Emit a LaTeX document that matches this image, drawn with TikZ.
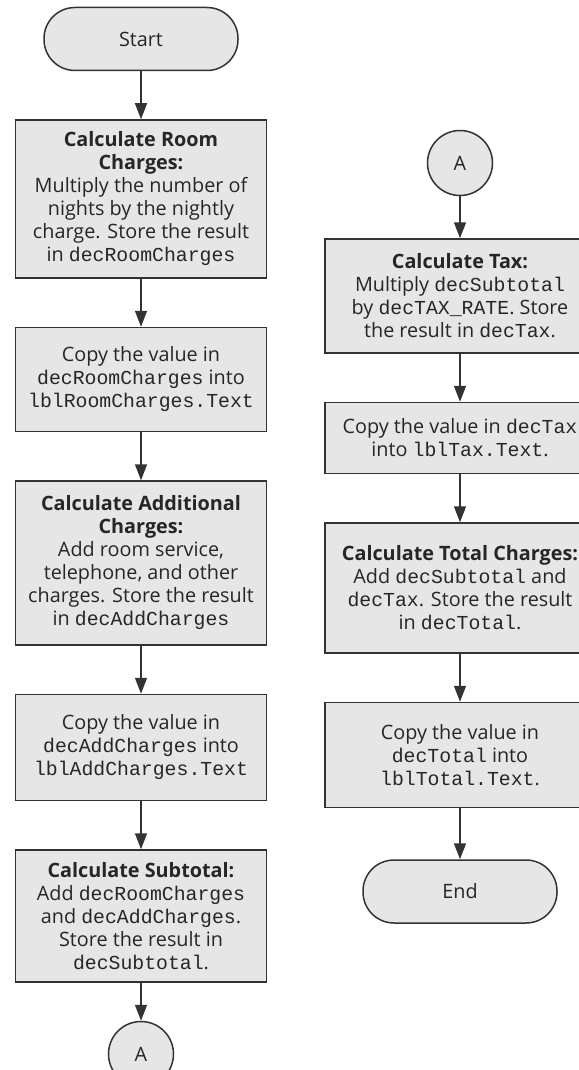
\documentclass[tikz,border=0pt]{standalone}
\usepackage{fontspec}
\setmainfont{Open Sans}
\setmonofont[Scale=1.0]{Liberation Mono}
\usetikzlibrary{positioning,arrows.meta}
\definecolor{boxgray}{HTML}{E6E6E6}
\definecolor{linegray}{HTML}{333333}

\begin{document}
\begin{tikzpicture}[
    x=1pt, y=1pt,
    node distance=48pt,
    every node/.style={align=center, text=black!85, font=\fontsize{19.8}{23}\selectfont},
    procbox/.style={draw=linegray, fill=boxgray, line width=1.5pt, inner xsep=6pt, inner ysep=8pt},
    leftbox/.style={procbox, minimum width=251pt},
    rightbox/.style={procbox, minimum width=270pt},
    terminal/.style={draw=linegray, fill=boxgray, line width=1.5pt, rounded corners=31pt, minimum width=194pt, minimum height=63pt},
    connector/.style={draw=linegray, fill=boxgray, line width=1.5pt, circle, minimum size=65pt, inner sep=0pt},
    flow/.style={draw=linegray, line width=1.5pt, -{Triangle[length=16pt,width=12pt]}}
]
\useasboundingbox (0,0) rectangle (578,-1070);

% left column
\node[terminal] (start) at (141,-39) {Start};
\node[leftbox, minimum height=158pt, below=of start] (roomcalc)
    {\textbf{Calculate Room}\\\textbf{Charges:}\\Multiply the number of\\nights by the nightly\\charge. Store the result\\in \texttt{decRoomCharges}};
\node[leftbox, minimum height=104pt, below=of roomcalc] (roomcopy)
    {Copy the value in\\\texttt{decRoomCharges} into\\\texttt{lblRoomCharges.Text}};
\node[leftbox, minimum height=164pt, below=of roomcopy] (addcalc)
    {\textbf{Calculate Additional}\\\textbf{Charges:}\\Add room service,\\telephone, and other\\charges. Store the result\\in \texttt{decAddCharges}};
\node[leftbox, minimum height=106pt, below=of addcalc] (addcopy)
    {Copy the value in\\\texttt{decAddCharges} into\\\texttt{lblAddCharges.Text}};
\node[leftbox, minimum height=132pt, below=of addcopy] (subcalc)
    {\textbf{Calculate Subtotal:}\\Add \texttt{decRoomCharges}\\and \texttt{decAddCharges}.\\Store the result in\\\texttt{decSubtotal}.};
\node[connector, below=38pt of subcalc] (outA) {A};

% right column
\node[connector] (inA) at (460,-163) {A};
\node[rightbox, minimum height=114pt, below=42pt of inA] (taxcalc)
    {\textbf{Calculate Tax:}\\Multiply \texttt{decSubtotal}\\by \texttt{decTAX\_RATE}. Store\\the result in \texttt{decTax}.};
\node[rightbox, minimum height=71pt, below=of taxcalc] (taxcopy)
    {Copy the value in \texttt{decTax}\\into \texttt{lblTax.Text}.};
\node[rightbox, minimum height=130pt, below=of taxcopy] (totalcalc)
    {\textbf{Calculate Total Charges:}\\Add \texttt{decSubtotal} and\\\texttt{decTax}. Store the result\\in \texttt{decTotal}.};
\node[rightbox, minimum height=105pt, below=of totalcalc] (totalcopy)
    {Copy the value in\\\texttt{decTotal} into\\\texttt{lblTotal.Text}.};
\node[terminal, below=51pt of totalcopy] (end) {End};

\foreach \a/\b in {start/roomcalc, roomcalc/roomcopy, roomcopy/addcalc,
    addcalc/addcopy, addcopy/subcalc, subcalc/outA,
    inA/taxcalc, taxcalc/taxcopy, taxcopy/totalcalc,
    totalcalc/totalcopy, totalcopy/end}
  \draw[flow] (\a) -- (\b);
\end{tikzpicture}
\end{document}
